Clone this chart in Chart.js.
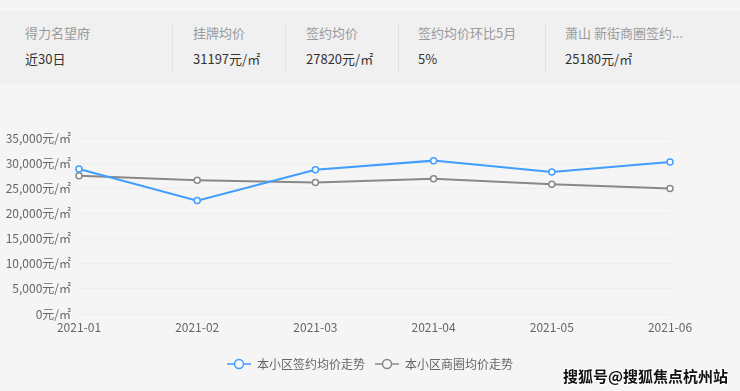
<!DOCTYPE html>
<html>
<head>
<meta charset="utf-8">
<script src="https://cdn.jsdelivr.net/npm/chart.js@4/dist/chart.umd.min.js"></script>
<style>
  body { margin: 0; background: #f5f5f5; font-family: "Noto Sans CJK SC", sans-serif; }
  #wrap { position: relative; width: 740px; height: 391px; overflow: hidden; }
  #head { position: absolute; left: 0; top: 11px; width: 740px; height: 73px; background: #f0f0f0; }
  .cell { position: absolute; top: 0; height: 73px; }
  .cell .lb { position: absolute; top: 12px; font-size: 13px; color: #9a9a9a; white-space: nowrap; }
  .cell .vl { position: absolute; top: 38px; font-size: 13px; color: #333; white-space: nowrap; }
  .sep { position: absolute; top: 12px; width: 1px; height: 50px; background: #e2e2e2; }
  #mark { position: absolute; left: 563px; top: 365px; font-size: 15px; font-weight: bold; color: #111;
    text-shadow: 1px 0 #fff, -1px 0 #fff, 0 1px #fff, 0 -1px #fff; }
  canvas { position: absolute; left: 0; top: 0; }
</style>
</head>
<body>
<div id="wrap">
  <div id="head"></div>
  <canvas id="grafico" width="740" height="391"></canvas>
  <div id="mark">搜狐号@搜狐焦点杭州站</div>
</div>
<script>
const cabecalho = [
  ["得力名望府", "近30日", 25],
  ["挂牌均价", "31197元/㎡", 193],
  ["签约均价", "27820元/㎡", 306],
  ["签约均价环比5月", "5%", 418],
  ["萧山 新街商圈签约...", "25180元/㎡", 565]
];
const separadores = [172, 285, 398, 545];

const meses = ["2021-01", "2021-02", "2021-03", "2021-04", "2021-05", "2021-06"];
const precoBairro = [28850, 22550, 28700, 30500, 28250, 30250];
const precoCirculo = [27500, 26600, 26150, 26900, 25800, 24950];

const head = document.getElementById("head");
cabecalho.forEach(function (c) {
  const d = document.createElement("div");
  d.className = "cell";
  d.style.left = c[2] + "px";
  d.innerHTML = '<div class="lb">' + c[0] + '</div><div class="vl">' + c[1] + '</div>';
  head.appendChild(d);
});
separadores.forEach(function (x) {
  const s = document.createElement("div");
  s.className = "sep";
  s.style.left = x + "px";
  head.appendChild(s);
});

// marcador da legenda: linha com circulo vazio no meio
function marcador(cor) {
  const c = document.createElement("canvas");
  c.width = 24; c.height = 12;
  const g = c.getContext("2d");
  g.strokeStyle = cor;
  g.lineWidth = 1.5;
  g.beginPath(); g.moveTo(0, 6); g.lineTo(24, 6); g.stroke();
  g.fillStyle = "#f5f5f5";
  g.beginPath(); g.arc(12, 6, 4.5, 0, Math.PI * 2); g.fill(); g.stroke();
  return c;
}

const ctx = document.getElementById("grafico");
new Chart(ctx, {
  type: "line",
  data: {
    labels: meses,
    datasets: [
      {
        label: "本小区签约均价走势",
        data: precoBairro,
        borderColor: "#409eff",
        backgroundColor: "#ffffff",
        borderWidth: 2,
        pointStyle: "circle",
        pointRadius: 3,
        pointBorderWidth: 1.5,
        tension: 0
      },
      {
        label: "本小区商圈均价走势",
        data: precoCirculo,
        borderColor: "#888888",
        backgroundColor: "#ffffff",
        borderWidth: 2,
        pointStyle: "circle",
        pointRadius: 3,
        pointBorderWidth: 1.5,
        tension: 0
      }
    ]
  },
  options: {
    responsive: false,
    animation: false,
    layout: { padding: { top: 138, right: 0, bottom: 11, left: 0 } },
    plugins: {
      tooltip: { enabled: false },
      legend: {
        position: "bottom",
        labels: {
          usePointStyle: true,
          pointStyleWidth: 24,
          boxHeight: 12,
          color: "#666",
          font: { family: "Noto Sans CJK SC", size: 12 },
          padding: 10,
          generateLabels: function (chart) {
            return chart.data.datasets.map(function (ds, i) {
              return {
                text: ds.label,
                pointStyle: marcador(ds.borderColor),
                fontColor: "#666",
                lineWidth: 0,
                strokeStyle: "transparent",
                fillStyle: "transparent",
                datasetIndex: i
              };
            });
          }
        }
      }
    },
    scales: {
      x: {
        offset: false,
        grid: { display: false, drawTicks: false },
        border: { display: false },
        ticks: { color: "#666", font: { family: "Noto Sans CJK SC", size: 12 }, padding: 6, maxRotation: 0 },
        afterFit: function (s) { s.height = 34; }
      },
      y: {
        min: 0,
        max: 35000,
        grid: { color: "rgba(0,0,0,0.03)", drawTicks: false },
        border: { display: false },
        ticks: {
          stepSize: 5000,
          color: "#666",
          padding: 8,
          font: { family: "Noto Sans CJK SC", size: 12 },
          callback: function (v) { return v.toLocaleString("en-US") + "元/㎡"; }
        },
        afterFit: function (s) { s.width = 79; }
      },
      // eixo vazio a direita so para reservar espaco
      y2: {
        position: "right",
        min: 0,
        max: 35000,
        grid: { display: false },
        border: { display: false },
        ticks: { display: false },
        afterFit: function (s) { s.width = 70; }
      }
    }
  }
});
</script>
</body>
</html>
